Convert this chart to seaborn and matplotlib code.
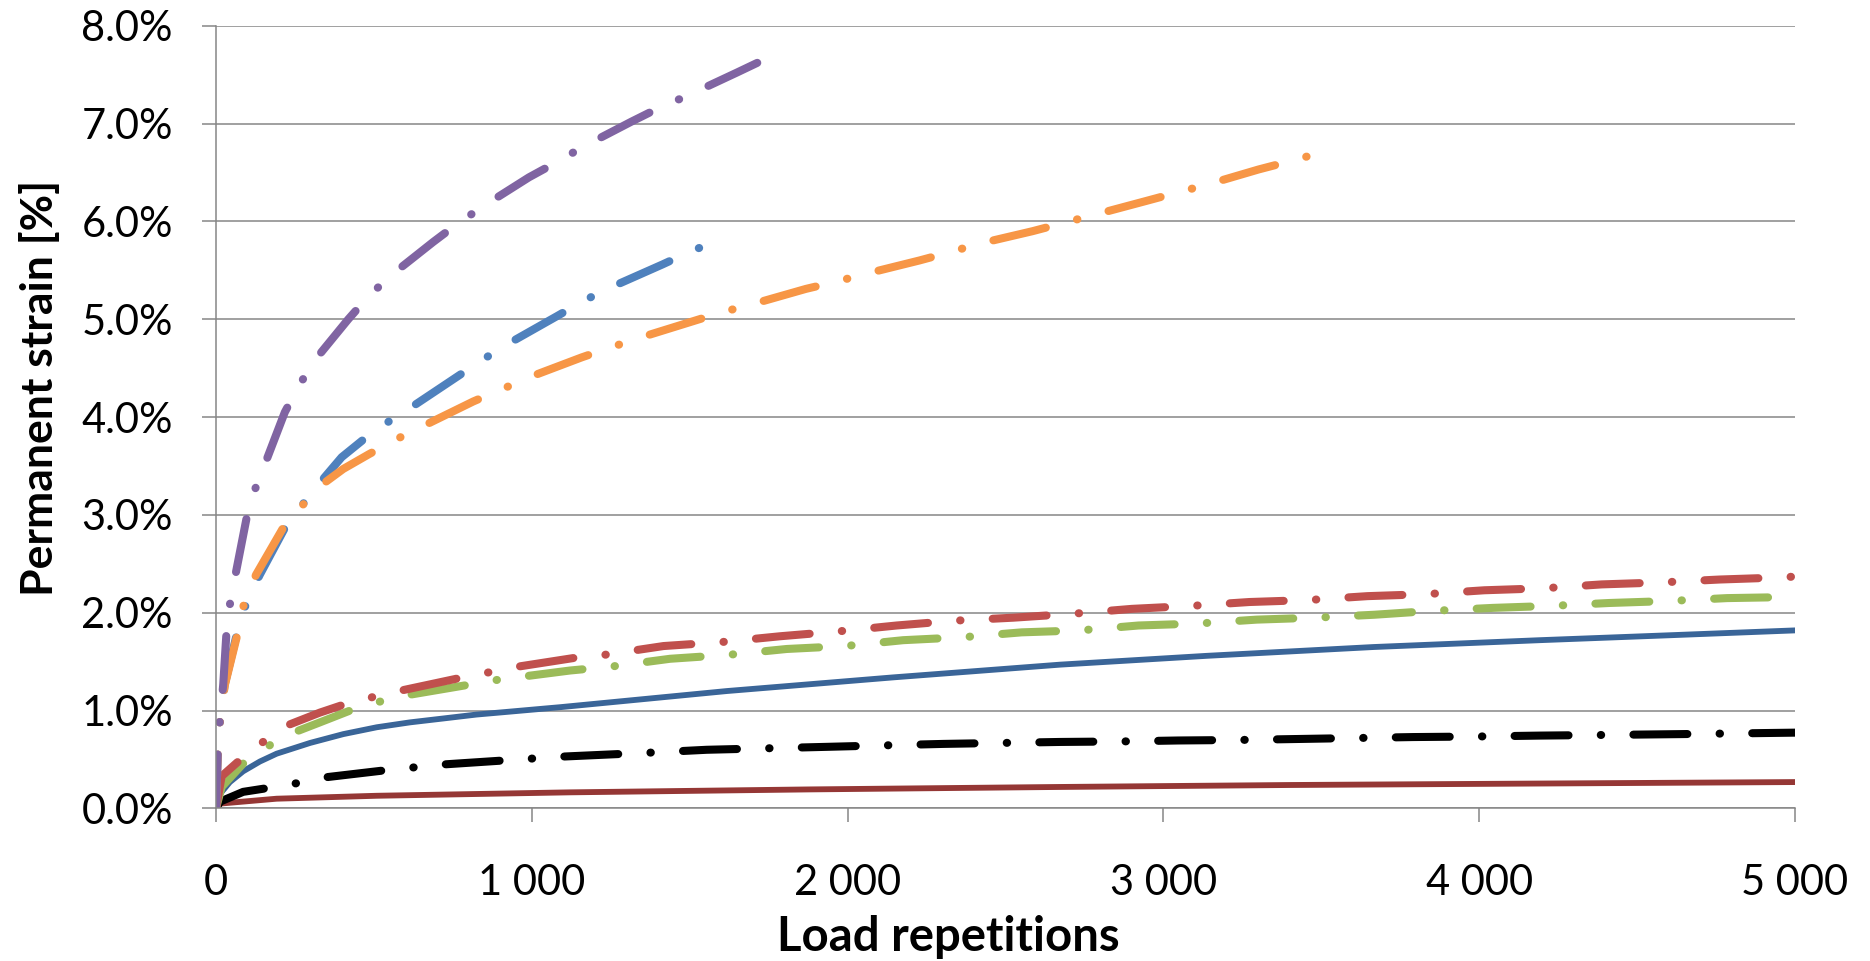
import numpy as np
import pandas as pd
import matplotlib
matplotlib.use("Agg")
import matplotlib.pyplot as plt
import seaborn as sns
from matplotlib.ticker import FuncFormatter, MultipleLocator

# values: load repetitions and permanent strain [%]
purple_x = [0, 7, 15, 23, 34, 46, 63, 97, 121, 155, 218, 261, 310, 419, 482, 551, 688, 762,
            844, 991, 1076, 1161, 1316, 1403, 1490, 1649, 1740]
purple_y = [0, 0.71, 0.99, 1.27, 1.84, 2.13, 2.41, 2.97, 3.24, 3.52, 4.05, 4.31, 4.57, 5.00,
            5.23, 5.44, 5.79, 5.97, 6.15, 6.45, 6.60, 6.76, 7.02, 7.16, 7.28, 7.52, 7.66]

blue_x = [0, 7, 15, 28, 71, 99, 139, 222, 280, 340, 398, 463, 540, 623, 767, 846, 931, 1079,
          1165, 1253, 1414, 1501, 1600]
blue_y = [0, 0.71, 0.98, 1.27, 1.85, 2.13, 2.39, 2.89, 3.13, 3.37, 3.59, 3.76, 3.94, 4.11,
          4.42, 4.59, 4.76, 5.03, 5.19, 5.33, 5.56, 5.69, 5.82]

orange_x = [0, 7, 15, 28, 71, 89, 127, 213, 271, 340, 403, 484, 569, 657, 815, 902, 994, 1158,
            1248, 1341, 1511, 1601, 1694, 1868, 1960, 2052, 2227, 2319, 2414, 2586, 2680, 2773,
            2947, 3039, 3132, 3301, 3396, 3496]
orange_y = [0, 0.70, 0.97, 1.26, 1.82, 2.10, 2.39, 2.87, 3.09, 3.32, 3.47, 3.62, 3.77, 3.91,
            4.16, 4.28, 4.41, 4.61, 4.71, 4.81, 4.98, 5.07, 5.15, 5.31, 5.38, 5.46, 5.60, 5.68,
            5.77, 5.90, 5.98, 6.06, 6.21, 6.29, 6.37, 6.53, 6.61, 6.70]

red_x = [0, 18, 81, 157, 234, 329, 403, 498, 593, 767, 862, 957, 1137, 1230, 1417, 1599, 1786,
         1971, 2155, 2342, 2525, 2713, 2900, 3086, 3272, 3458, 3646, 3830, 4016, 4201, 4388,
         4574, 4762, 4946, 5000]
red_y = [0, 0.33, 0.51, 0.70, 0.86, 0.98, 1.06, 1.14, 1.21, 1.33, 1.39, 1.45, 1.54, 1.57, 1.66,
         1.70, 1.76, 1.81, 1.87, 1.92, 1.95, 1.99, 2.04, 2.07, 2.11, 2.13, 2.17, 2.19, 2.23,
         2.25, 2.29, 2.31, 2.34, 2.36, 2.37]

green_x = [0, 18, 92, 172, 257, 329, 424, 516, 609, 792, 881, 976, 1121, 1251, 1438, 1622, 1807,
           1992, 2176, 2364, 2551, 2736, 2921, 3108, 3295, 3481, 3668, 3853, 4043, 4225, 4411,
           4598, 4785, 4969, 5000]
green_y = [0, 0.22, 0.48, 0.65, 0.79, 0.88, 1.00, 1.09, 1.16, 1.26, 1.31, 1.35, 1.41, 1.45,
           1.53, 1.57, 1.63, 1.66, 1.72, 1.75, 1.80, 1.82, 1.87, 1.89, 1.93, 1.95, 1.98, 2.02,
           2.05, 2.07, 2.10, 2.12, 2.15, 2.16, 2.17]

navy_x = [0, 13, 44, 86, 139, 192, 298, 403, 509, 614, 720, 825, 931, 1036, 1089, 1617, 2145,
          2673, 3137, 3665, 4192, 4600, 5000]
navy_y = [0, 0.15, 0.27, 0.38, 0.48, 0.56, 0.67, 0.76, 0.83, 0.88, 0.92, 0.96, 0.99, 1.02,
          1.035, 1.20, 1.34, 1.47, 1.56, 1.65, 1.72, 1.77, 1.82]

black_x = [0, 13, 86, 166, 259, 350, 535, 627, 720, 908, 1000, 1095, 1369, 1554, 1744, 1934,
           2116, 2303, 2488, 2673, 2863, 3047, 3235, 3422, 3607, 3791, 3979, 4192, 4351, 4636,
           5000]
black_y = [0, 0.07, 0.17, 0.21, 0.26, 0.32, 0.39, 0.42, 0.45, 0.49, 0.51, 0.53, 0.57, 0.60,
           0.615, 0.63, 0.645, 0.66, 0.67, 0.68, 0.685, 0.695, 0.70, 0.71, 0.72, 0.73, 0.735,
           0.745, 0.75, 0.76, 0.775]

maroon_x = [0, 13, 192, 509, 1121, 1880, 2673, 3401, 4192, 5000]
maroon_y = [0, 0.05, 0.10, 0.13, 0.165, 0.195, 0.22, 0.24, 0.255, 0.27]

x_ticks = [0, 1000, 2000, 3000, 4000, 5000]
x_tick_labels = ["0", "1 000", "2 000", "3 000", "4 000", "5 000"]

sns.set_theme(style="white")
plt.rcParams['font.family'] = ['Lato', 'DejaVu Sans']

long_dash_dot = (0, (6.7, 4.0, 0.05, 4.0))
series = [
    (navy_x, navy_y, '#3A6598', '-', 4.2),
    (maroon_x, maroon_y, '#953735', '-', 4.2),
    (black_x, black_y, '#000000', long_dash_dot, 5.8),
    (green_x, green_y, '#9BBB59', long_dash_dot, 5.8),
    (red_x, red_y, '#C0504D', long_dash_dot, 5.8),
    (blue_x, blue_y, '#4F81BD', long_dash_dot, 5.8),
    (orange_x, orange_y, '#F79646', long_dash_dot, 5.8),
    (purple_x, purple_y, '#8064A2', long_dash_dot, 5.8),
]

fig = plt.figure(figsize=(18.7, 9.61), dpi=100)
ax = fig.add_axes([0.1155, 0.1587, 0.8444, 0.8146])

for xs, ys, col, ls, lw in series:
    df = pd.DataFrame({'reps': xs, 'strain': ys})
    sns.lineplot(data=df, x='reps', y='strain', ax=ax, color=col, linestyle=ls,
                 linewidth=lw, dash_capstyle='round', solid_capstyle='round',
                 solid_joinstyle='round', estimator=None, sort=False)

ax.set_xlim(0, 5000)
ax.set_ylim(0, 8)
ax.yaxis.set_major_locator(MultipleLocator(1))
ax.yaxis.set_major_formatter(FuncFormatter(lambda v, p: f"{v:.1f}%"))
ax.set_xticks(x_ticks)
ax.set_xticklabels(x_tick_labels)

ax.grid(axis='y', color='#868686', linewidth=1.1)
ax.grid(axis='x', visible=False)
ax.set_axisbelow(True)
for side in ['top', 'right']:
    ax.spines[side].set_visible(False)
for side in ['left', 'bottom']:
    ax.spines[side].set_color('#868686')
    ax.spines[side].set_linewidth(1.1)

ax.tick_params(axis='both', direction='out', length=10, width=1.1, color='#868686',
               labelsize=30, labelcolor='black')
ax.tick_params(axis='y', pad=21, left=True)
ax.tick_params(axis='x', pad=30, bottom=True)

ax.set_xlabel('Load repetitions', fontsize=34, fontweight='bold', color='black')
ax.set_ylabel('Permanent strain [%]', fontsize=32, fontweight='bold', color='black')
ax.xaxis.set_label_coords(0.4636, -0.136)
ax.yaxis.set_label_coords(-0.0988, 0.537)

fig.savefig('out.png', dpi=100, facecolor='white')
plt.close(fig)
